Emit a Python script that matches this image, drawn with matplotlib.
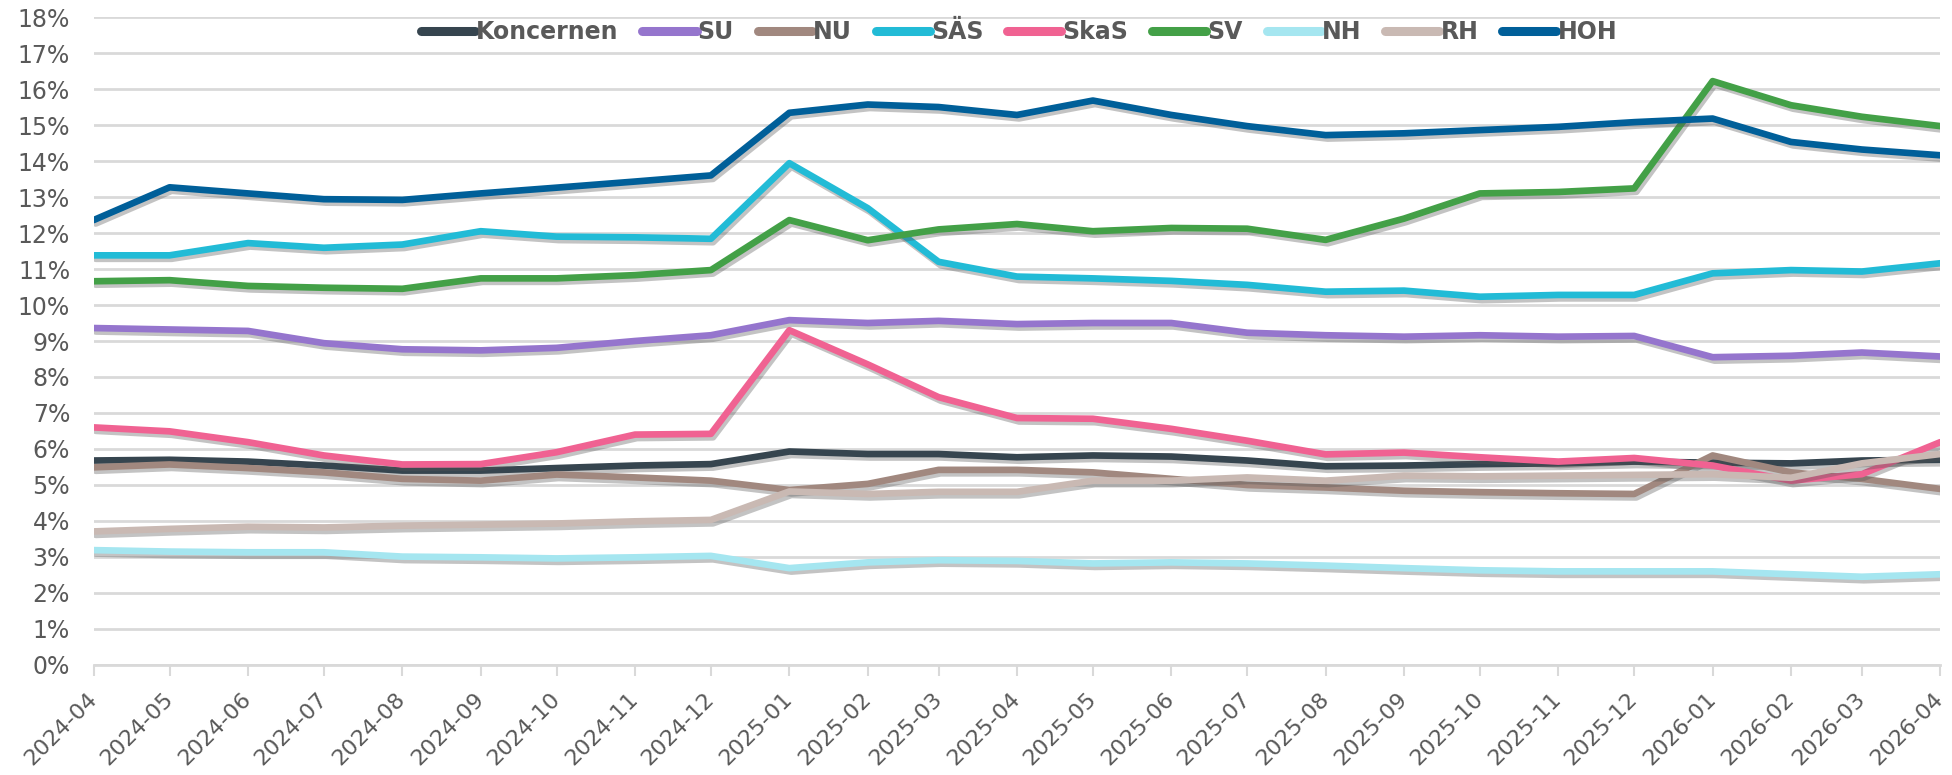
import matplotlib
matplotlib.use("Agg")
import matplotlib.pyplot as plt
import matplotlib.dates as mdates
import matplotlib.patheffects as pe
from matplotlib.ticker import FuncFormatter
import pandas as pd

months = ["2024-04", "2024-05", "2024-06", "2024-07", "2024-08", "2024-09",
          "2024-10", "2024-11", "2024-12", "2025-01", "2025-02", "2025-03",
          "2025-04", "2025-05", "2025-06", "2025-07", "2025-08", "2025-09",
          "2025-10", "2025-11", "2025-12", "2026-01", "2026-02", "2026-03",
          "2026-04"]

# sick leave share per unit, percent
koncernen = [5.68, 5.70, 5.65, 5.54, 5.40, 5.40, 5.47, 5.54, 5.58, 5.93, 5.86, 5.86,
             5.77, 5.82, 5.79, 5.68, 5.52, 5.54, 5.58, 5.60, 5.65, 5.62, 5.60, 5.68, 5.70]
su = [9.36, 9.32, 9.28, 8.94, 8.77, 8.74, 8.81, 9.00, 9.16, 9.58, 9.50, 9.56,
      9.47, 9.50, 9.50, 9.23, 9.16, 9.12, 9.16, 9.12, 9.14, 8.55, 8.59, 8.68, 8.57]
nu = [5.49, 5.57, 5.47, 5.35, 5.17, 5.12, 5.29, 5.21, 5.12, 4.86, 5.03, 5.42,
      5.42, 5.35, 5.17, 5.00, 4.93, 4.84, 4.80, 4.77, 4.75, 5.82, 5.35, 5.17, 4.89]
sas = [11.38, 11.38, 11.72, 11.59, 11.68, 12.05, 11.90, 11.88, 11.84, 13.94, 12.69, 11.20,
       10.79, 10.74, 10.67, 10.56, 10.37, 10.40, 10.23, 10.28, 10.28, 10.88, 10.97, 10.93, 11.16]
skas = [6.60, 6.49, 6.19, 5.82, 5.57, 5.58, 5.91, 6.40, 6.42, 9.30, 8.35, 7.44,
        6.86, 6.84, 6.56, 6.23, 5.85, 5.90, 5.77, 5.65, 5.75, 5.54, 5.12, 5.30, 6.19]
sv = [10.66, 10.69, 10.53, 10.48, 10.45, 10.74, 10.74, 10.83, 10.97, 12.36, 11.80, 12.10,
      12.25, 12.05, 12.14, 12.12, 11.81, 12.40, 13.10, 13.14, 13.24, 16.22, 15.55, 15.23, 14.97]
nh = [3.19, 3.15, 3.13, 3.13, 3.01, 2.99, 2.96, 2.99, 3.03, 2.69, 2.85, 2.91,
      2.89, 2.82, 2.85, 2.82, 2.76, 2.69, 2.63, 2.60, 2.60, 2.60, 2.52, 2.45, 2.52]
rh = [3.71, 3.78, 3.84, 3.82, 3.87, 3.90, 3.93, 3.99, 4.03, 4.82, 4.75, 4.81,
      4.81, 5.12, 5.12, 5.21, 5.12, 5.26, 5.24, 5.26, 5.28, 5.30, 5.20, 5.60, 5.86]
hoh = [12.36, 13.27, 13.10, 12.94, 12.92, 13.10, 13.26, 13.43, 13.60, 15.34, 15.57, 15.50,
       15.28, 15.68, 15.28, 14.97, 14.72, 14.77, 14.86, 14.95, 15.08, 15.18, 14.53, 14.32, 14.16]

series = [
    ("Koncernen", koncernen, "#36454f"),
    ("SU", su, "#9575cd"),
    ("NU", nu, "#a1887f"),
    ("SÄS", sas, "#22bbd6"),
    ("SkaS", skas, "#f06292"),
    ("SV", sv, "#43a047"),
    ("NH", nh, "#a5e6f0"),
    ("RH", rh, "#c9b9b3"),
    ("HOH", hoh, "#005f99"),
]

dates = pd.to_datetime(months, format="%Y-%m")
text_color = "#595959"
grid_color = "#d9d9d9"

fig = plt.figure(figsize=(19.52, 7.75), dpi=100)
ax = fig.add_axes([0.048, 0.142, 0.946, 0.836])

shadow = [pe.SimpleLineShadow(offset=(1.5, -2.5), shadow_color="#555555", alpha=0.35),
          pe.Normal()]
for name, vals, color in series:
    ax.plot(dates, vals, color=color, lw=4.8, label=name,
            solid_capstyle="round", solid_joinstyle="round",
            path_effects=shadow, zorder=3)

ax.set_ylim(0, 18)
ax.set_yticks(range(0, 19))
ax.yaxis.set_major_formatter(FuncFormatter(lambda v, p: f"{v:.0f}%"))
ax.set_xlim(dates[0], dates[-1])
ax.set_xticks(dates)
ax.xaxis.set_major_formatter(mdates.DateFormatter("%Y-%m"))

ax.grid(axis="y", color=grid_color, lw=2)
ax.set_axisbelow(True)
for side in ["left", "right", "top"]:
    ax.spines[side].set_visible(False)
ax.spines["bottom"].set_color(grid_color)
ax.spines["bottom"].set_linewidth(2)

ax.tick_params(axis="y", length=0, pad=17, labelsize=17, labelcolor=text_color)
ax.tick_params(axis="x", length=8, width=1.5, color=grid_color, pad=14,
               labelsize=16, labelcolor=text_color)
for lbl in ax.get_xticklabels():
    lbl.set_rotation(45)
    lbl.set_ha("right")
    lbl.set_va("center")
    lbl.set_rotation_mode("anchor")

leg = fig.legend(loc="center", bbox_to_anchor=(0.522, 0.959), ncol=9,
                 frameon=False, handlelength=2.3, handletextpad=0.05,
                 columnspacing=1.0, prop={"weight": "bold", "size": 17})
for t in leg.get_texts():
    t.set_color(text_color)
for h in leg.get_lines():
    h.set_linewidth(6.5)
    h.set_solid_capstyle("round")
    h.set_path_effects([])

fig.savefig("out.png", dpi=100)
